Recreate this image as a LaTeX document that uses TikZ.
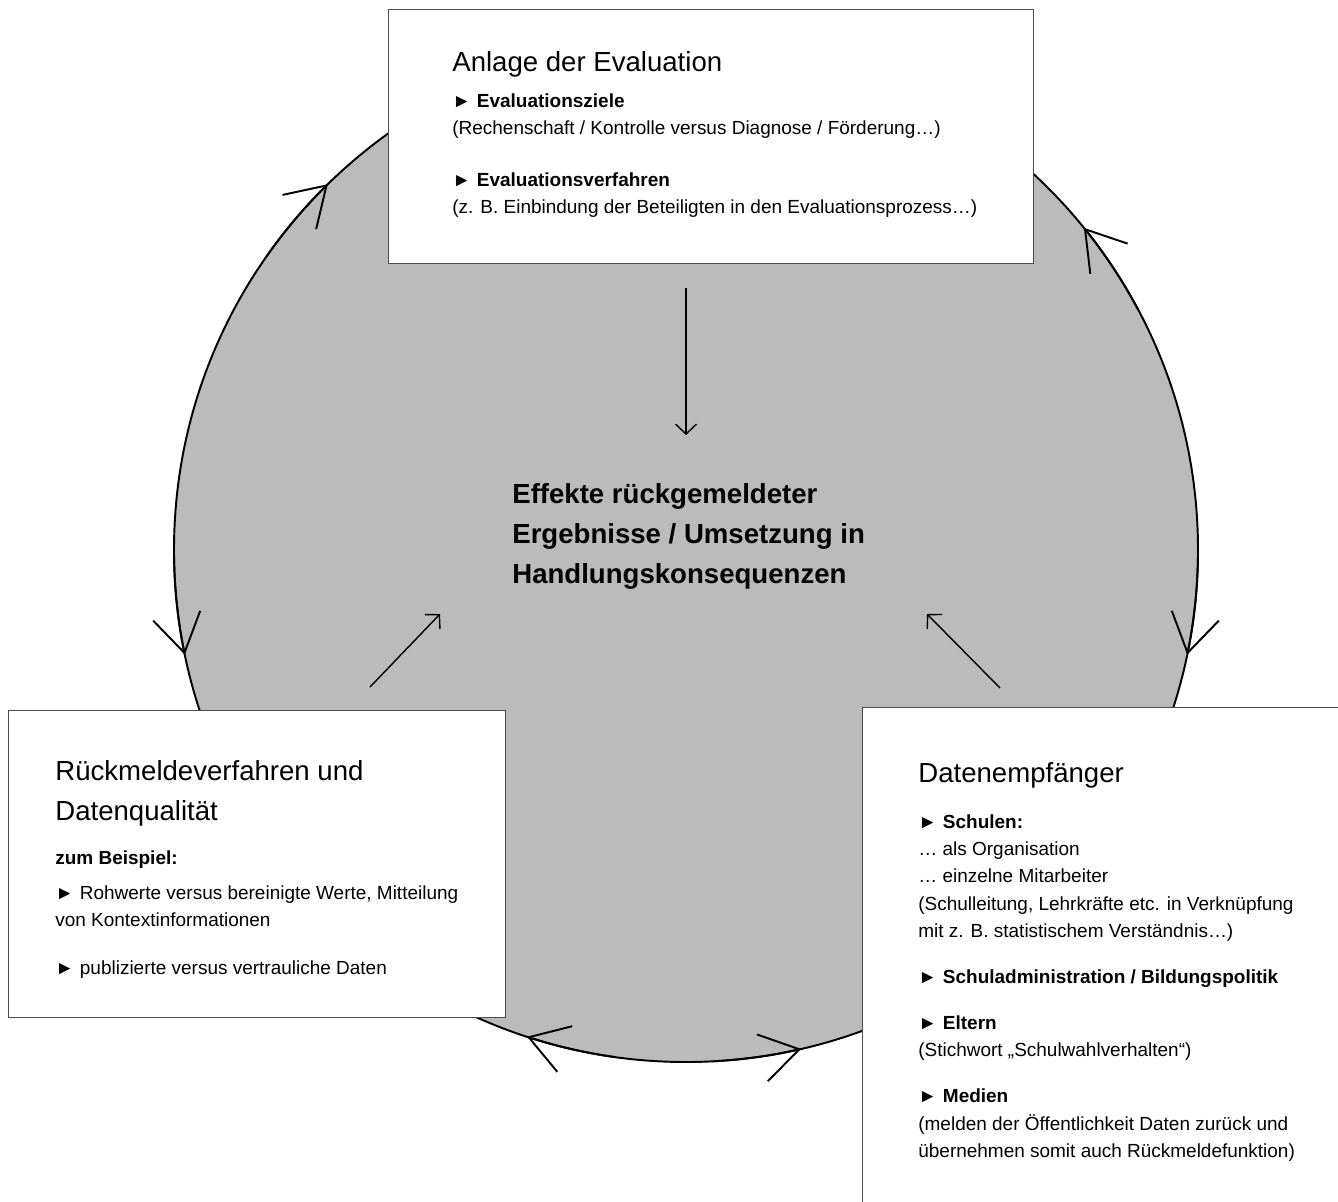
\documentclass[tikz,border=0pt]{standalone}
\usepackage{fontspec}
\setmainfont{Liberation Sans}
\usetikzlibrary{arrows.meta,positioning,calc}

\definecolor{circlegray}{RGB}{187,187,187}
\newcommand{\bul}{\makebox[14pt][l]{►}}

\begin{document}
\begin{tikzpicture}[x=0.02cm, y=0.02cm,
  infobox/.style={draw=black!70, line width=0.8pt, fill=white, anchor=north west, inner sep=0pt},
  titletext/.style={anchor=north west, inner sep=0pt, align=left, font=\fontsize{15.7}{22.7}\selectfont},
  bodytext/.style={anchor=north west, inner sep=0pt, align=left, font=\fontsize{10.8}{15.6}\selectfont},
  cyclearrow/.style={line width=1.1pt, -{Straight Barb[length=0.76cm, width=0.96cm]}},
  flowarrow/.style={line width=0.8pt, -{Straight Barb[length=0.2cm, width=0.42cm]}}]

\useasboundingbox (0,0) rectangle (1338,-1201);
\clip (0,0) rectangle (1338,-1201);

% the cycle
\coordinate (ctr) at (686,-550);
\filldraw[fill=circlegray, draw=black, line width=1.1pt] (ctr) circle[radius=512];
\foreach \s/\e in {145/134.4, 28/39, 181/191.8, 359/348.2, 262/251.9, 273/283}
  \draw[cyclearrow] ($(ctr)+(\s:512)$) arc[start angle=\s, end angle=\e, radius=512];

% boxes
\node[infobox, minimum width=12.9cm, minimum height=5.08cm] (topbox) at (388,-9) {};
\node[infobox, minimum width=9.94cm, minimum height=6.14cm] (leftbox) at (8,-710) {};
\node[infobox, minimum width=9.66cm, minimum height=10.06cm] (rightbox) at (862,-707) {};

% top box
\node[titletext] (toptitle) at (452,-51) {Anlage der Evaluation};
\node[bodytext] (topbody) at (452,-93) {\bul\textbf{Evaluationsziele}\\
  (Rechenschaft / Kontrolle versus Diagnose / Förderung…)\\[13.9pt]
  \bul\textbf{Evaluationsverfahren}\\
  (z. B. Einbindung der Beteiligten in den Evaluationsprozess…)};

% left box
\node[titletext] (lefttitle) at (55,-760) {Rückmeldeverfahren und\\ Datenqualität};
\node[bodytext] (leftbody) at (55,-850) {\textbf{zum Beispiel:}\\[4.3pt]
  \bul Rohwerte versus bereinigte Werte, Mitteilung\\
  von Kontextinformationen\\[11.9pt]
  \bul publizierte versus vertrauliche Daten};

% right box
\node[titletext] (righttitle) at (918,-762) {Datenempfänger};
\node[bodytext] (rightbody) at (918,-814) {\bul\textbf{Schulen:}\\
  … als Organisation\\
  … einzelne Mitarbeiter\\
  (Schulleitung, Lehrkräfte etc. in Verknüpfung\\
  mit z. B. statistischem Verständnis…)\\[10.5pt]
  \bul\textbf{Schuladministration / Bildungspolitik}\\[10.5pt]
  \bul\textbf{Eltern}\\
  (Stichwort „Schulwahlverhalten“)\\[10.5pt]
  \bul\textbf{Medien}\\
  (melden der Öffentlichkeit Daten zurück und\\
  übernehmen somit auch Rückmeldefunktion)};

% centre
\node[anchor=north west, inner sep=0pt, align=left, font=\bfseries\fontsize{15.7}{22.7}\selectfont] (effekte) at (512,-483)
  {Effekte rückgemeldeter\\ Ergebnisse / Umsetzung in\\ Handlungskonsequenzen};

% arrows towards the centre
\coordinate (downstart) at (686,-288);
\coordinate (downend) at (686,-435);
\coordinate (lstart) at (370,-687);
\coordinate (lend) at (440,-614);
\coordinate (rstart) at (1000,-688);
\coordinate (rend) at (927,-614);
\draw[flowarrow] (downstart) -- (downend);
\draw[flowarrow] (lstart) -- (lend);
\draw[flowarrow] (rstart) -- (rend);
\end{tikzpicture}
\end{document}
